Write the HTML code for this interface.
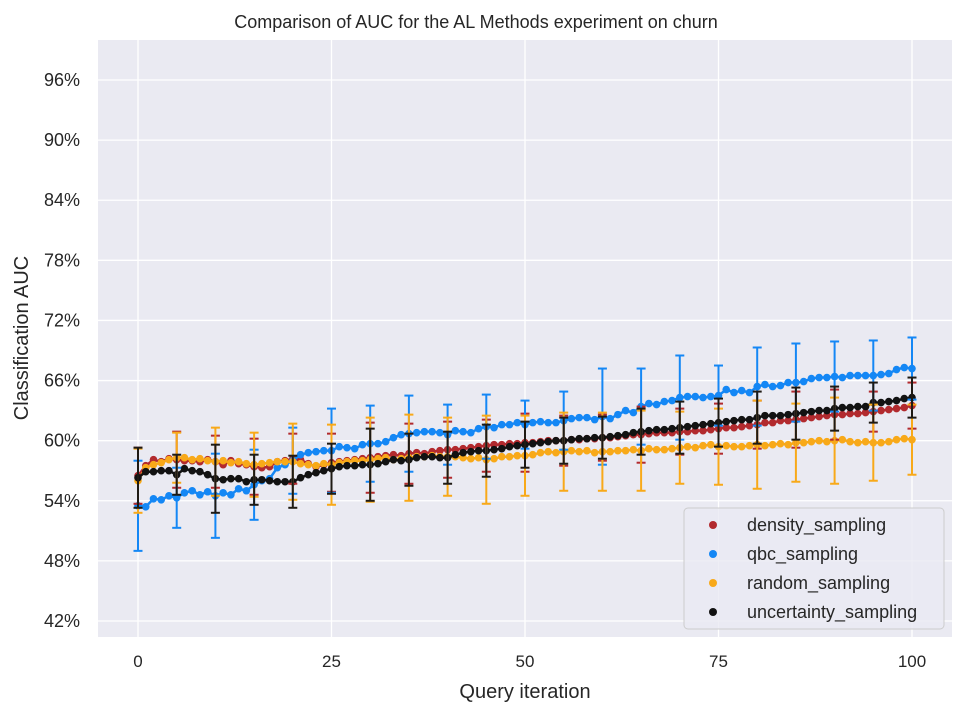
<!DOCTYPE html>
<html><head><meta charset="utf-8"><style>
body{margin:0;background:#fff;font-family:"Liberation Sans",Arial,sans-serif}
svg text{font-family:"Liberation Sans",Arial,sans-serif;fill:#262626}
</style></head><body>
<svg id="c" width="966" height="716">
<rect x="98" y="40" width="854" height="597" fill="#eaeaf2"/>
<g id="grid"></g><g id="series"></g><g id="axes"></g>
<text x="476" y="28" font-size="18" text-anchor="middle">Comparison of AUC for the AL Methods experiment on churn</text>
<text x="525" y="698" font-size="20" text-anchor="middle">Query iteration</text>
<text x="28" y="338" font-size="20" text-anchor="middle" transform="rotate(-90 28 338)">Classification AUC</text>
<g id="legend">
<rect x="684" y="508" width="260" height="121" rx="4" fill="#eaeaf2" fill-opacity="0.8" stroke="#cccccc"/>
</g>
</svg>
<script>
const xTicks=[0,25,50,75,100];
const yTicks=[42,48,54,60,66,72,78,84,90,96];
const names=["density_sampling","qbc_sampling","random_sampling","uncertainty_sampling"];
const colors=["#b22a2e","#1487f5","#f8a919","#121212"];
const density=[56.5,57.5,58.1,57.9,58.2,58.1,58.0,58.0,57.9,58.1,57.9,57.6,58.0,57.7,57.6,57.4,57.3,57.4,57.9,58.0,58.2,58.1,57.7,57.4,57.6,57.8,57.9,58.0,58.1,58.2,58.3,58.4,58.5,58.6,58.5,58.7,58.8,58.7,58.9,59.0,59.1,59.1,59.2,59.3,59.4,59.5,59.6,59.6,59.7,59.7,59.8,59.8,59.9,60.0,60.0,60.0,60.1,60.1,60.2,60.2,60.3,60.3,60.4,60.5,60.6,60.6,60.7,60.8,60.8,60.8,60.9,60.9,61.0,61.0,61.1,61.2,61.3,61.3,61.4,61.5,61.6,61.8,61.8,62.0,62.0,62.1,62.2,62.3,62.4,62.5,62.6,62.6,62.7,62.7,62.8,62.9,63.0,63.1,63.2,63.3,63.5];
const qbc=[53.5,53.4,54.2,54.1,54.5,54.3,54.8,55.0,54.6,54.9,54.5,54.8,54.6,55.2,55.0,55.6,56.0,56.2,57.3,57.6,58.0,58.6,58.8,58.9,59.0,59.0,59.4,59.3,59.2,59.6,59.7,59.7,59.9,60.3,60.6,60.7,60.8,60.9,60.9,60.8,60.6,61.0,60.9,60.8,61.2,61.4,61.3,61.6,61.6,61.8,61.6,61.8,61.9,61.8,61.8,62.0,62.2,62.3,62.3,62.1,62.4,62.2,62.6,63.0,62.8,63.4,63.7,63.6,63.9,64.0,64.3,64.4,64.4,64.3,64.4,64.5,65.1,64.8,65.0,64.8,65.4,65.6,65.4,65.5,65.8,65.8,65.9,66.2,66.3,66.3,66.4,66.3,66.5,66.5,66.5,66.5,66.6,66.7,67.1,67.3,67.2];
const random=[56.0,57.3,57.6,57.8,58.1,58.3,58.3,58.1,58.2,58.0,57.9,58.0,57.8,57.9,57.7,57.6,57.7,57.8,57.9,57.9,57.9,57.7,57.6,57.5,57.7,57.6,57.8,57.9,58.0,58.0,58.1,58.2,58.3,58.1,58.2,58.3,58.4,58.4,58.5,58.4,58.4,58.4,58.3,58.2,58.3,58.1,58.2,58.4,58.4,58.5,58.5,58.6,58.8,58.9,58.8,58.9,59.0,58.9,59.0,58.8,58.9,58.9,59.0,59.0,59.1,59.0,59.2,59.1,59.1,59.2,59.3,59.4,59.3,59.5,59.6,59.4,59.5,59.4,59.4,59.5,59.6,59.5,59.6,59.7,59.6,59.8,59.8,59.9,60.0,59.9,60.0,60.1,59.9,59.8,59.9,59.8,59.8,59.9,60.1,60.2,60.1];
const uncertainty=[56.3,56.9,56.9,57.0,57.0,56.6,57.2,57.0,56.9,56.6,56.2,56.1,56.2,56.2,55.9,56.1,56.1,56.0,55.9,55.9,55.9,56.3,56.6,56.8,57.0,57.2,57.4,57.5,57.5,57.6,57.6,57.7,57.9,58.1,58.0,58.1,58.3,58.4,58.4,58.3,58.3,58.6,58.8,58.9,59.0,59.0,59.1,59.2,59.4,59.5,59.6,59.7,59.8,59.9,60.0,60.0,60.1,60.2,60.2,60.3,60.3,60.4,60.5,60.6,60.8,60.9,61.0,61.1,61.1,61.2,61.3,61.4,61.5,61.6,61.7,61.8,61.9,62.0,62.1,62.1,62.3,62.5,62.5,62.5,62.6,62.7,62.8,62.9,63.0,63.0,63.2,63.3,63.3,63.4,63.4,63.8,63.8,63.9,64.0,64.2,64.3];
const densityErr=[2.8,2.8,2.6,2.8,2.5,2.9,3.5,3.0,2.8,2.6,2.9,2.5,2.3,2.8,2.3,2.5,2.4,2.8,2.5,2.0,2.3];
const qbcErr=[4.5,3.0,4.2,3.5,3.3,4.2,3.8,3.8,3.0,3.2,2.4,2.9,4.8,3.8,4.2,3.0,3.9,3.9,3.5,3.5,3.1];
const randomErr=[3.2,2.5,3.4,3.2,3.8,4.0,4.2,4.3,3.9,4.4,4.0,3.9,3.9,4.0,3.6,3.8,4.4,3.9,4.3,3.8,3.5];
const uncertaintyErr=[3.0,2.0,3.4,2.5,2.6,2.5,3.6,2.6,2.6,2.6,2.3,2.3,2.1,2.3,2.6,2.4,2.6,2.6,2.2,2.0,2.0];
const errStep=5;

const NS="http://www.w3.org/2000/svg";
const X0=98,X1=952,Y0=40,Y1=637;
function xs(v){return 138+v*(912-138)/100;}
function ys(v){return 80+(96-v)*(621-80)/54;}
function mk(t,a,p){const e=document.createElementNS(NS,t);for(const k in a)e.setAttribute(k,a[k]);p.appendChild(e);return e;}
const grid=document.getElementById('grid'),axes=document.getElementById('axes'),ser=document.getElementById('series');
xTicks.forEach(t=>{
 const l=mk('line',{x1:xs(t),x2:xs(t),y1:Y0,y2:Y1,stroke:'#fff','stroke-width':1.3},grid);
 
 
 const tx=mk('text',{x:xs(t),y:Y1+30,'font-size':17,'text-anchor':'middle'},axes);tx.textContent=t;
 
 
});
yTicks.forEach(t=>{
 const l=mk('line',{x1:X0,x2:X1,y1:ys(t),y2:ys(t),stroke:'#fff','stroke-width':1.3},grid);
 
 
 const tx=mk('text',{x:X0-18,y:ys(t)+6,'font-size':18,'text-anchor':'end'},axes);tx.textContent=t+'%';
 
 
});
const data=[density,qbc,random,uncertainty];
const errs=[densityErr,qbcErr,randomErr,uncertaintyErr];
const ecol=["#b22a2e","#1487f5","#f8a919","#1e1a14"];
data.forEach((d,si)=>{
 const g=mk('g',{},ser);
 
 
 mk('polyline',{points:d.map((v,i)=>xs(i)+','+ys(v)).join(' '),fill:'none',stroke:colors[si],'stroke-width':2.5},g);
 d.forEach((v,i)=>{
  const c=mk('circle',{cx:xs(i),cy:ys(v),r:3.8,fill:colors[si]},g);
  
  
 });
});
errs.forEach((e,si)=>{
 const g=mk('g',{stroke:ecol[si],'stroke-width':2},ser);
 
 
 e.forEach((h,k)=>{
  const i=k*errStep,v=data[si][i],x=xs(i),a=ys(v+h),b=ys(v-h);
  mk('line',{x1:x,x2:x,y1:a,y2:b},g);
  mk('line',{x1:x-4.5,x2:x+4.5,y1:a,y2:a},g);
  mk('line',{x1:x-4.5,x2:x+4.5,y1:b,y2:b},g);
 });
});
const lg=document.getElementById('legend');
names.forEach((n,i)=>{
 const y=525+i*29;
 const c=mk('circle',{cx:713,cy:y,r:4,fill:colors[i]},lg);
 
 
 const t=mk('text',{x:747,y:y+6,'font-size':18},lg);t.textContent=n;
 
 
});
</script>
</body></html>
